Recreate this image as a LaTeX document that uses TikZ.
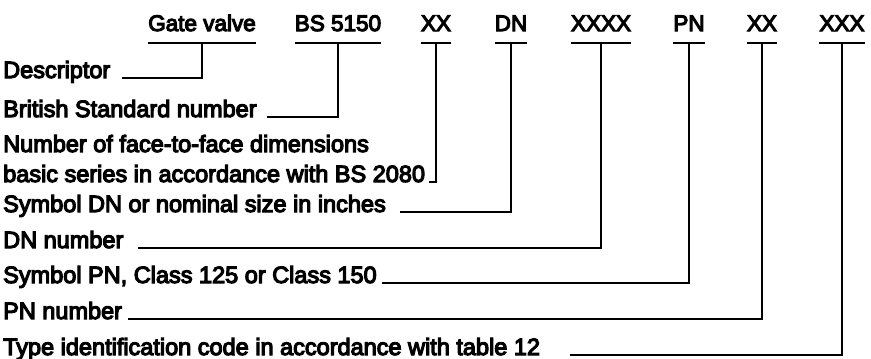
\documentclass[tikz,border=0pt]{standalone}
\usepackage{fontspec}
\setmainfont{Liberation Sans}
\newfontfamily\medfont{Liberation Sans}[FakeBold=5]
\begin{document}
\begin{tikzpicture}[x=1pt,y=-1pt,
  txt/.style={inner sep=0pt, text depth=0pt},
  hdr/.style={txt, font=\medfont\fontsize{22.5}{27}\selectfont, anchor=base, inner ysep=12pt},
  lab/.style={txt, font=\medfont\fontsize{23.5}{28}\selectfont, anchor=base west},
  ln/.style={line width=1.5pt, line cap=butt, line join=miter}]
\useasboundingbox (0,0) rectangle (871,359);
% header items
\node[hdr] (h1) at (202,31) {Gate valve};
\node[hdr] (h2) at (338,31) {BS 5150};
\node[hdr] (h3) at (436,31) {XX};
\node[hdr] (h4) at (511,31) {DN};
\node[hdr] (h5) at (601,31) {XXXX};
\node[hdr] (h6) at (689,31) {PN};
\node[hdr] (h7) at (762,31) {XX};
\node[hdr] (h8) at (842,31) {XXX};
\foreach \h in {h1,h2,h3,h4,h5,h6,h7,h8}
  \draw[ln] (\h.south west) -- (\h.south east);
% labels
\node[lab] (l1) at (3,78) {Descriptor};
\node[lab] (l2) at (3,117) {British Standard number};
\node[lab] (l3a) at (3,152) {Number of face-to-face dimensions};
\node[lab] (l3) at (3,182) {basic series in accordance with BS 2080};
\node[lab] (l4) at (3,212) {Symbol DN or nominal size in inches};
\node[lab] (l5) at (3,248) {DN number};
\node[lab] (l6) at (3,283) {Symbol PN, Class 125 or Class 150};
\node[lab] (l7) at (3,319) {PN number};
\node[lab] (l8) at (3,355) {Type identification code in accordance with table 12};
% connectors
\draw[ln] ([xshift=12pt]l1.base east) -| (h1.south);
\draw[ln] ([xshift=10pt]l2.base east) -| (h2.south);
\draw[ln] ([xshift=4pt]l3.base east) -| (h3.south);
\draw[ln] ([xshift=14pt]l4.base east) -| (h4.south);
\draw[ln] ([xshift=14pt]l5.base east) -| (h5.south);
\draw[ln] ([xshift=5pt]l6.base east) -| (h6.south);
\draw[ln] ([xshift=6pt]l7.base east) -| (h7.south);
\draw[ln] ([xshift=30pt]l8.base east) -| (h8.south);
\end{tikzpicture}
\end{document}
